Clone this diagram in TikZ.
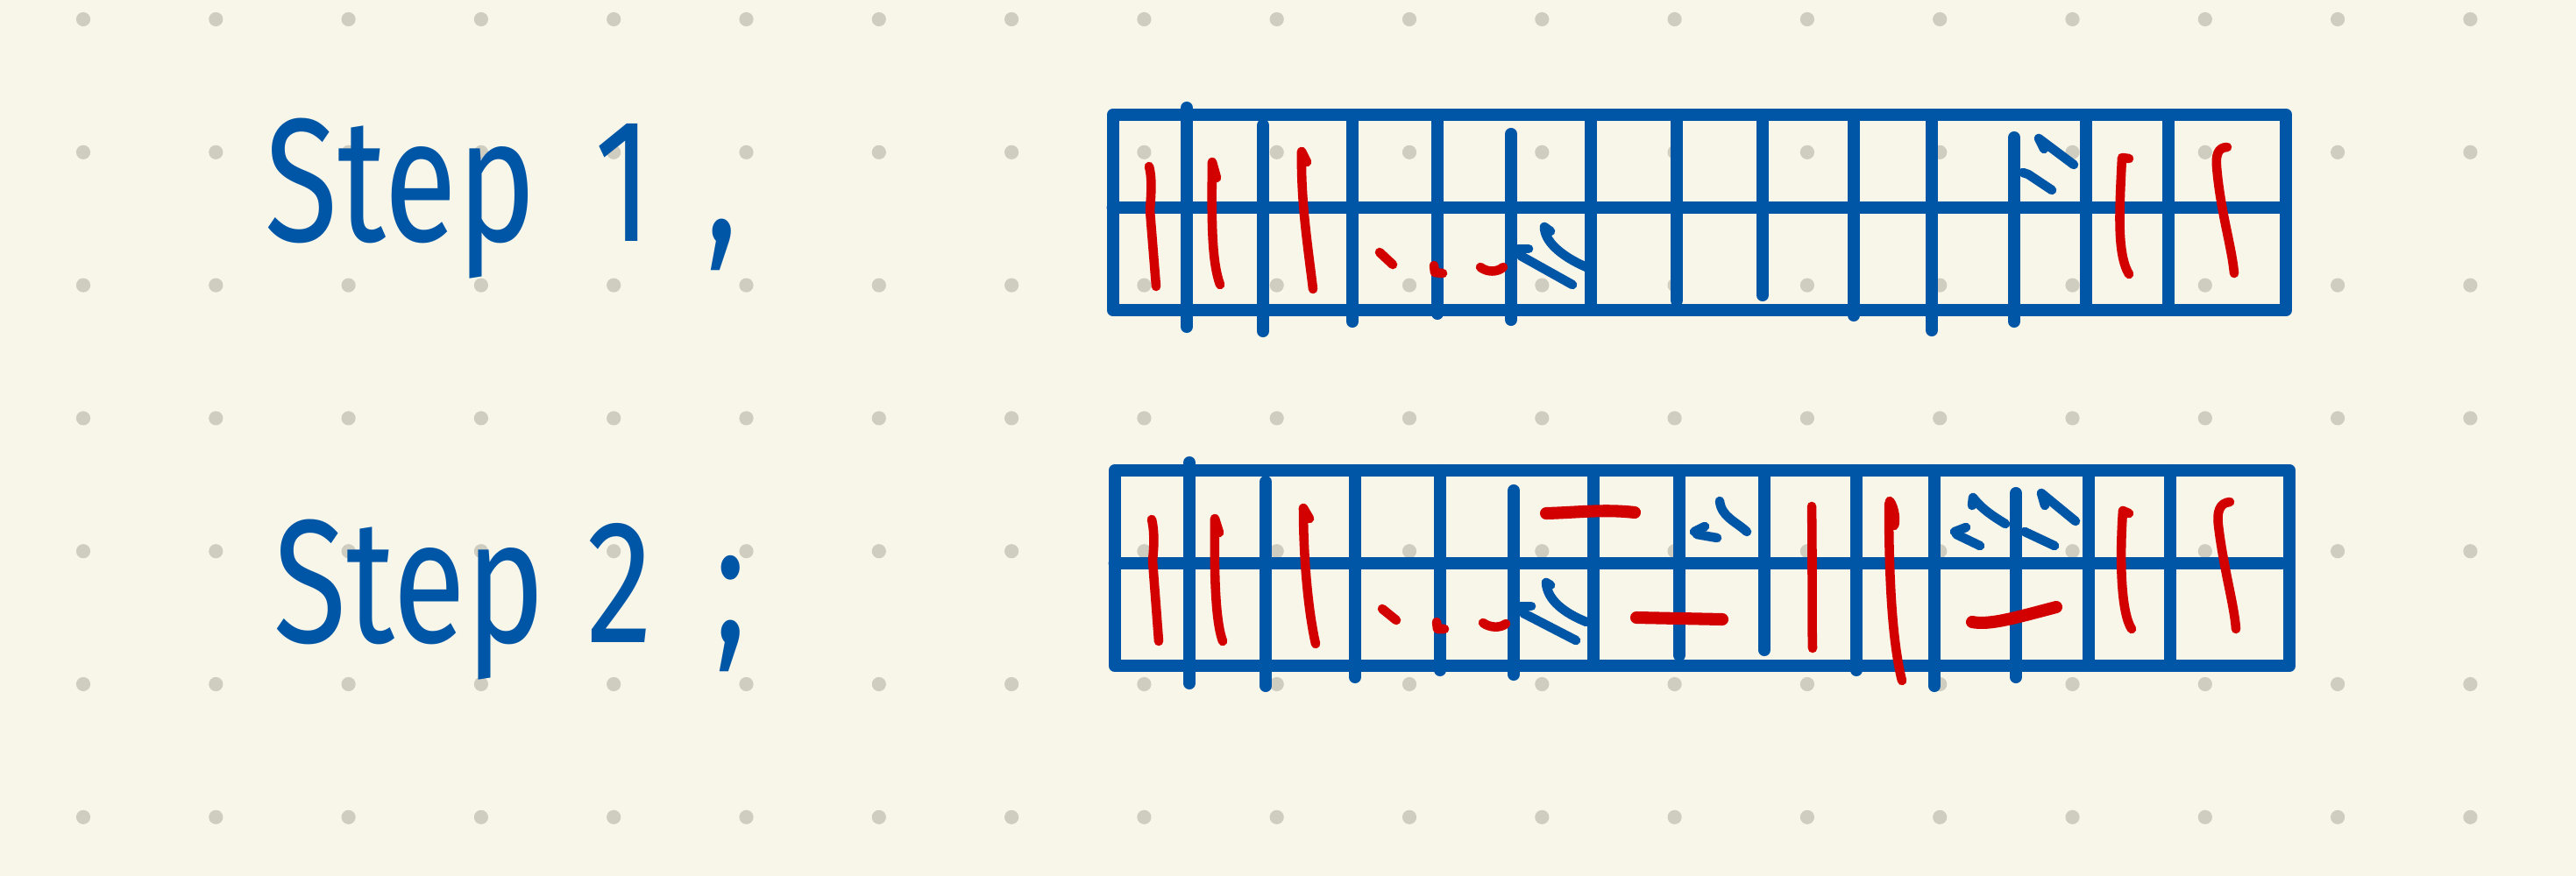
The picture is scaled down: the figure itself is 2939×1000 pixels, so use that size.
\documentclass[tikz,border=0pt]{standalone}
\usepackage{fontspec}
\usepackage{tikz}
\definecolor{paper}{RGB}{248,245,233}
\definecolor{dotgray}{RGB}{207,204,192}
\definecolor{penblue}{RGB}{0,86,166}
\definecolor{penred}{RGB}{211,0,0}
\newfontfamily\handfont{Fira Sans}

\begin{document}
\begin{tikzpicture}[x=0.01cm, y=-0.01cm,
    frame/.style={line width=4.2pt, draw=penblue, line join=round, line cap=round},
    bar/.style={line width=4pt, draw=penblue, line cap=round},
    redmark/.style={line width=3pt, draw=penred, line cap=round, line join=round},
    bluemark/.style={line width=3pt, draw=penblue, line cap=round, line join=round},
    steplabel/.style={anchor=base west, inner sep=0pt, text=penblue, xscale=0.76,
      font=\handfont\fontsize{57}{60}\selectfont}]
        % Paper and dot grid
        \fill[paper] (0,0) rectangle (2939,1000);
        \foreach \i in {0,...,18}
          \foreach \j in {0,...,6}
            \fill[dotgray] (95+151.3*\i, 22+151.8*\j) circle (2.3pt);

        % Labels
        \node[steplabel] (step1) at (302,275) {Step\hspace{0.35cm} 1\hspace{0.8cm},};
        \node[steplabel] (step2) at (312,733) {Step\hspace{0.1cm} 2\hspace{0.4cm} ;};

        % Draw the first strip
        \draw[frame] (1270,131) rectangle (2608,354);
        \draw[frame] (1270,237) -- (2600,237);
        \draw[bar] (1354,123) -- (1354,373);
        \draw[bar] (1441,143) -- (1441,378);
        \draw[bar] (1543,135) -- (1543,367);
        \draw[bar] (1640,131) -- (1640,358);
        \draw[bar] (1724,153) -- (1724,365);
        \draw[bar] (1815,131) -- (1815,352);
        \draw[bar] (1913,131) -- (1913,343);
        \draw[bar] (2011,131) -- (2011,337);
        \draw[bar] (2115,131) -- (2115,360);
        \draw[bar] (2204,131) -- (2204,377);
        \draw[bar] (2298,157) -- (2298,367);
        \draw[bar] (2380,131) -- (2380,354);
        \draw[bar] (2474,131) -- (2474,354);

        % Marks on the first strip
        \draw[redmark] (1311,190) .. controls (1315,205) and (1313,225) .. (1312,240) -- (1319,327);
        \draw[redmark] (1388,203) -- (1383,185) .. controls (1382,260) and (1383,300) .. (1392,325);
        \draw[redmark] (1491,185) -- (1485,173) .. controls (1484,230) and (1492,280) .. (1498,330);
        \draw[redmark] (1574,288) -- (1589,302);
        \draw[redmark] (1636,303) -- (1637,311) -- (1646,312);
        \draw[redmark] (1689,305) .. controls (1697,311) and (1708,311) .. (1715,305);
        \draw[bluemark] (1732,284) -- (1744,284);
        \draw[bluemark] (1735,292) -- (1794,325);
        \draw[bluemark] (1769,264) -- (1762,259) .. controls (1762,275) and (1780,292) .. (1810,305);
        \draw[bluemark] (2332,170) -- (2326,158) -- (2366,188);
        \draw[bluemark] (2308,197) -- (2314,199) -- (2341,217);
        \draw[redmark] (2429,181) -- (2421,180) .. controls (2418,240) and (2415,290) .. (2429,313);
        \draw[redmark] (2541,168) .. controls (2530,168) and (2528,178) .. (2529,190) .. controls (2533,240) and (2546,280) .. (2549,312);

        % Draw the second strip
        \draw[frame] (1272,537) rectangle (2612,760);
        \draw[frame] (1272,643) -- (2603,643);
        \draw[bar] (1357,528) -- (1357,780);
        \draw[bar] (1444,550) -- (1444,783);
        \draw[bar] (1546,537) -- (1546,773);
        \draw[bar] (1643,537) -- (1643,765);
        \draw[bar] (1727,560) -- (1727,770);
        \draw[bar] (1818,537) -- (1818,760);
        \draw[bar] (1916,537) -- (1916,748);
        \draw[bar] (2013,537) -- (2013,742);
        \draw[bar] (2118,537) -- (2118,765);
        \draw[bar] (2207,537) -- (2207,783);
        \draw[bar] (2300,563) -- (2300,773);
        \draw[bar] (2383,537) -- (2383,760);
        \draw[bar] (2476,537) -- (2476,760);

        % Marks on the second strip
        \draw[redmark] (1314,593) .. controls (1318,610) and (1316,630) .. (1315,640) -- (1322,732);
        \draw[redmark] (1391,608) -- (1386,592) .. controls (1385,660) and (1387,710) .. (1395,732);
        \draw[redmark] (1494,592) -- (1487,580) .. controls (1487,640) and (1493,700) .. (1501,735);
        \draw[redmark] (1577,695) -- (1593,708);
        \draw[redmark] (1639,710) -- (1640,718) -- (1648,718);
        \draw[redmark] (1692,711) .. controls (1700,717) and (1712,717) .. (1718,712);
        \draw[redmark, line width=4pt] (1764,586) .. controls (1800,585) and (1830,581) .. (1865,585);
        \draw[bluemark] (1735,692) -- (1747,692);
        \draw[bluemark] (1738,700) -- (1798,731);
        \draw[bluemark] (1769,668) -- (1764,665) .. controls (1765,685) and (1785,700) .. (1810,710);
        \draw[redmark, line width=4pt] (1867,705) -- (1965,707);
        \draw[bluemark] (1962,572) .. controls (1964,590) and (1980,595) .. (1993,607);
        \draw[bluemark] (1933,607) -- (1945,601);
        \draw[bluemark] (1936,610) -- (1959,614);
        \draw[redmark] (2067,578) .. controls (2068,640) and (2067,700) .. (2068,740);
        \draw[redmark] (2156,572) .. controls (2162,580) and (2163,595) .. (2161,600);
        \draw[redmark] (2155,575) .. controls (2155,650) and (2158,730) .. (2170,777);
        \draw[bluemark] (2250,577) -- (2251,568) .. controls (2262,582) and (2275,590) .. (2288,598);
        \draw[bluemark] (2230,607) -- (2243,602);
        \draw[bluemark] (2232,610) -- (2259,623);
        \draw[bluemark] (2333,577) -- (2329,563) -- (2368,595);
        \draw[bluemark] (2310,607) -- (2344,623);
        \draw[redmark, line width=4pt] (2250,710) .. controls (2270,714) and (2300,705) .. (2346,693);
        \draw[redmark] (2429,586) -- (2422,583) .. controls (2418,640) and (2420,700) .. (2432,718);
        \draw[redmark] (2544,573) .. controls (2532,574) and (2529,585) .. (2531,600) .. controls (2537,650) and (2549,690) .. (2551,718);
\end{tikzpicture}
\end{document}
